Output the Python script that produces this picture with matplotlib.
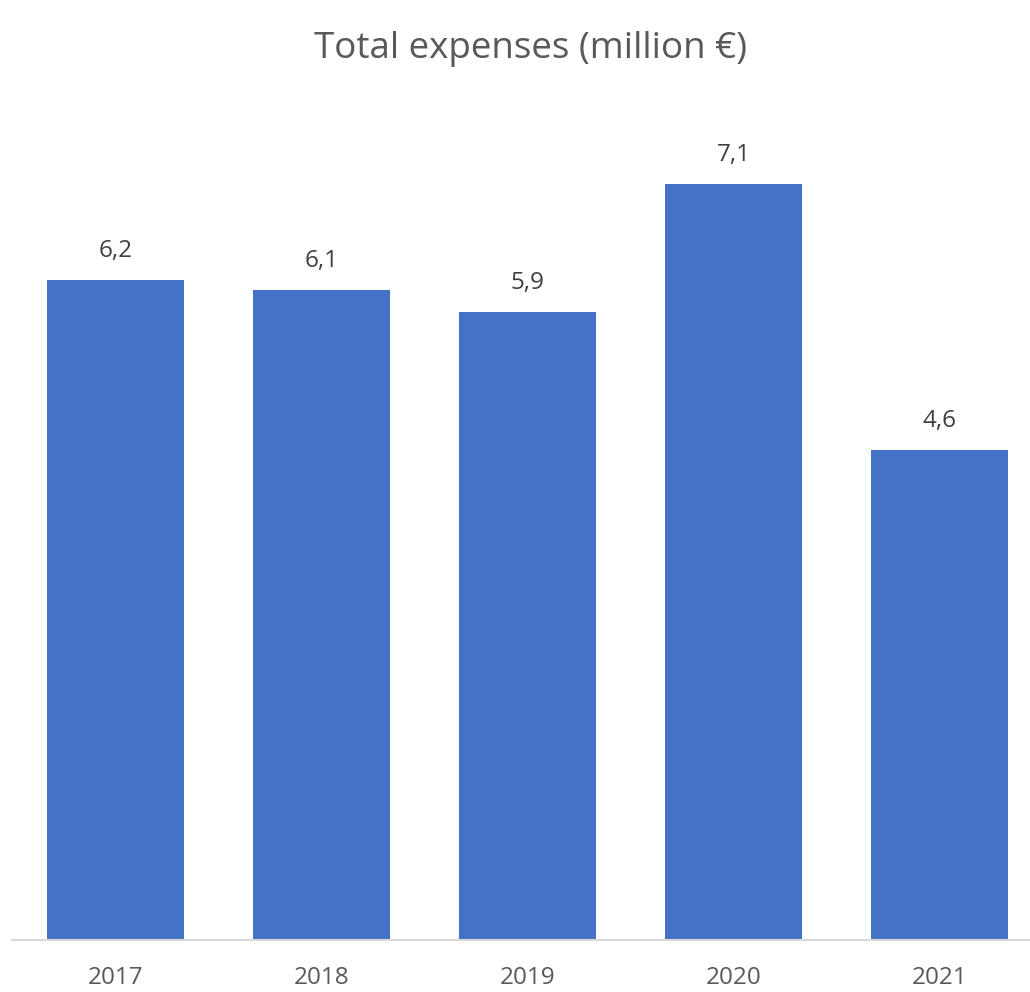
import matplotlib
matplotlib.use("Agg")
import matplotlib.pyplot as plt

years = ["2017", "2018", "2019", "2020", "2021"]
expenses = [6.2, 6.1, 5.9, 7.1, 4.6]
value_labels = ["6,2", "6,1", "5,9", "7,1", "4,6"]

plt.rcParams['font.family'] = ['Open Sans', 'DejaVu Sans']

W, H = 1030, 992
fig = plt.figure(figsize=(W / 100, H / 100), dpi=100)
# axes spans pixel x 12..1030, baseline at y=940 from top
ax = fig.add_axes([12 / W, 52 / H, (W - 12) / W, (940 - 84) / H])

x = list(range(len(years)))
ax.bar(x, expenses, width=0.665, color="#4472C4", zorder=2)
ax.set_xlim(-0.502, 4.439)
ax.set_ylim(0, 856 / 106.5)

for xi, v, lab in zip(x, expenses, value_labels):
    ax.annotate(lab, (xi, v), xytext=(0, 17), textcoords="offset pixels",
                ha="center", va="bottom", fontsize=17.5, color="#404040")

ax.set_xticks(x)
ax.set_xticklabels(years, fontsize=17.5, color="#595959")
ax.tick_params(axis="x", length=0, pad=19)
ax.set_yticks([])
for s in ["top", "right", "left"]:
    ax.spines[s].set_visible(False)
ax.spines["bottom"].set_color("#D9D9D9")
ax.spines["bottom"].set_linewidth(1.5)

fig.text(530 / W, 1 - 49 / H, "Total expenses (million €)", ha="center", va="center",
         fontsize=26.5, color="#595959")

fig.savefig("out.png", dpi=100)
